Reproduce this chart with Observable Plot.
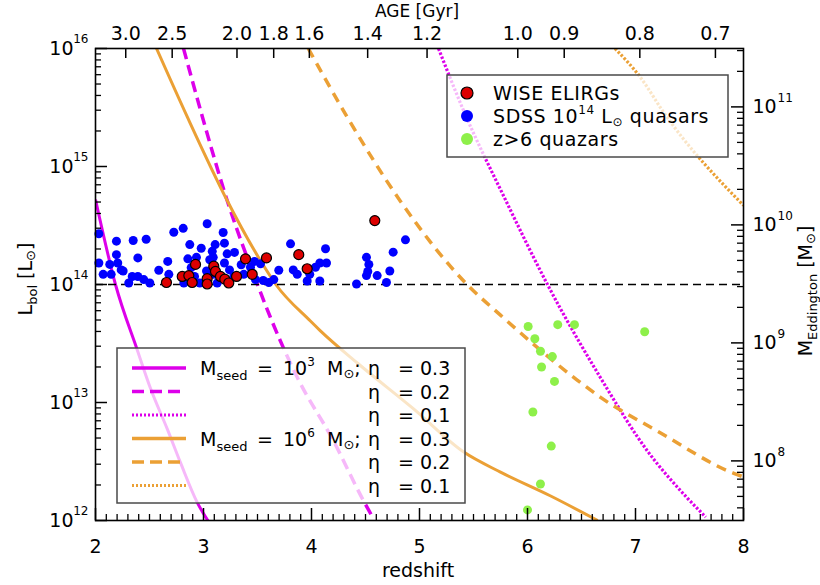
<!DOCTYPE html>
<html><head><meta charset="utf-8">
<script src="https://cdn.jsdelivr.net/npm/d3@7"></script>
<script src="https://cdn.jsdelivr.net/npm/@observablehq/plot@0.6"></script>
<style>body{margin:0;background:#fff} svg{display:block}</style>
</head><body><div id="chart"></div>
<script>
// ---------- data ----------
const redZ = [2.657,2.803,2.864,2.895,2.926,3.034,3.034,3.095,3.111,3.157,3.197,3.234,3.306,3.389,3.451,3.583,3.882,3.960,4.586];
const redL = [1.04e14,1.17e14,1.19e14,1.04e14,1.48e14,1.12e14,1.01e14,1.43e14,1.29e14,1.17e14,1.11e14,1.03e14,1.17e14,1.65e14,1.22e14,1.68e14,1.79e14,1.36e14,3.48e14];

const blueZ = [2.031,2.031,2.071,2.132,2.145,2.194,2.194,2.206,2.238,2.256,2.308,2.340,2.349,2.392,2.392,2.447,2.469,2.503,2.586,2.669,
  2.679,2.725,2.812,2.818,2.855,2.873,2.886,2.917,2.935,2.966,2.979,3.034,3.028,3.058,3.081,3.090,3.108,3.127,3.182,3.194,
  3.194,3.219,3.241,3.287,3.281,3.349,3.373,3.435,3.472,3.481,3.528,3.553,3.605,3.651,3.697,3.806,3.831,3.868,3.960,3.984,
  4.037,4.077,4.077,4.130,4.139,4.417,4.509,4.531,4.509,4.608,4.694,4.725,4.756,4.870,4.521,3.090];
const blueL = [2.69e14,1.52e14,1.22e14,1.48e14,1.22e14,2.33e14,1.79e14,1.52e14,1.33e14,1.30e14,1.03e14,1.17e14,2.36e14,1.68e14,1.17e14,1.10e14,2.42e14,1.03e14,1.32e14,1.57e14,
  1.22e14,2.77e14,2.99e14,1.03e14,1.65e14,2.18e14,1.39e14,1.17e14,1.70e14,1.03e14,2.03e14,3.27e14,1.30e14,1.62e14,1.91e14,1.22e14,2.18e14,1.03e14,2.76e14,2.24e14,
  1.52e14,1.82e14,1.33e14,1.87e14,1.17e14,1.47e14,1.22e14,1.40e14,1.57e14,1.10e14,1.50e14,1.08e14,1.04e14,1.10e14,1.32e14,2.21e14,1.33e14,1.22e14,1.07e14,1.22e14,
  1.40e14,1.52e14,1.07e14,2.01e14,1.52e14,1.01e14,1.70e14,1.48e14,1.19e14,1.19e14,1.04e14,1.30e14,1.88e14,2.39e14,1.29e14,1.70e14];

const greenZ = [6.006,6.068,6.12,6.13,6.28,6.435,6.23,6.25,6.05,6.22,6.12,6.0,7.085];
const greenL = [4.41e13,3.47e13,2.72e13,2.0e13,4.57e13,4.57e13,2.45e13,1.51e13,8.3e12,4.27e12,2.04e12,1.23e12,3.98e13];

// growth tracks: seed mass 1e3 / 1e6 Msun, eta = 0.3 / 0.2 / 0.1
const s3e3Z = [2.0,2.185,2.389,2.509,2.667,2.787,2.944,3.046];
const s3e3L = [5.25e14,1e14,2.75e13,1.32e13,5.89e12,3.09e12,1.41e12,9.8e11];
const s3e2Z = [2.815,2.99,3.22,3.5,3.62,3.87,4.2,4.48,4.57];
const s3e2L = [1e16,2.63e15,5.13e14,1e14,5.25e13,1.62e13,4.79e12,1.48e12,1.05e12];
const s3e1Z = [5.176,5.41,5.8,6.185,6.676,7.11,7.48,7.65];
const s3e1L = [1e16,2.95e15,5.13e14,1e14,1.62e13,3.89e12,1.55e12,1.07e12];
const s6e3Z = [2.565,2.85,3.22,3.53,3.67,3.99,4.08,4.43,4.94,5.41,5.75,6.21,6.65];
const s6e3L = [1e16,2.63e15,5.13e14,1.58e14,1e14,4.9e13,4.07e13,2.14e13,8.91e12,3.8e12,2.57e12,1.62e12,1e12];
const s6e2Z = [3.97,4.33,4.82,5.44,5.75,6.46,6.68,7.2,7.91,8.0];
const s6e2L = [1e16,2.63e15,5.13e14,1e14,5.5e13,1.55e13,1.1e13,5.75e12,2.51e12,2.34e12];
const s6e1Z = [6.81,7.05,7.26,8.0];
const s6e1L = [1e16,5.62e15,2.88e15,4.68e14];

// axes
const ageZ = [2.28,2.71,3.31,3.65,3.98,4.52,5.07,5.91,6.34,7.04,7.74];
const ageLabels = ["3.0","2.5","2.0","1.8","1.6","1.4","1.2","1.0","0.9","0.8","0.7"];
const zTicks = [2,3,4,5,6,7,8];
const lTicks = [1e12,1e13,1e14,1e15,1e16];
const lExp = ["12","13","14","15","16"];
const mTicks = [1e8,1e9,1e10,1e11];
const mExp = ["8","9","10","11"];
const eddRatio = 3.2e4;   // L_Edd / M  (Lsun / Msun)

// ---------- derived tables ----------
const pts = (zs, ls) => zs.map((z, i) => ({z, L: ls[i]}));
const MAG = "#dd00ea", ORA = "#eba035";
const DOT = "2.5,1.8";
const tracks = [
  {d: pts(s3e3Z, s3e3L), c: MAG, w: 3,   dash: null},
  {d: pts(s3e2Z, s3e2L), c: MAG, w: 3.5, dash: "11,6"},
  {d: pts(s3e1Z, s3e1L), c: MAG, w: 3.2, dash: DOT},
  {d: pts(s6e3Z, s6e3L), c: ORA, w: 3,   dash: null},
  {d: pts(s6e2Z, s6e2L), c: ORA, w: 3.5, dash: "10,7"},
  {d: pts(s6e1Z, s6e1L), c: ORA, w: 3.2, dash: DOT}
];
const lMinor = [];
for (let e = 12; e < 16; e++) for (let k = 2; k <= 9; k++) lMinor.push(k * 10 ** e);
const mMinorL = [];
for (let e = 7; e <= 11; e++) for (let k = 2; k <= 9; k++) {
  const L = k * 10 ** e * eddRatio; if (L > 1e12 && L < 1e16) mMinorL.push(L);
}
const mTicksL = mTicks.map(m => m * eddRatio);
const zMinor = [];
for (let i = 20; i <= 80; i++) if (i % 10) zMinor.push(i / 10);

const W = 820, H = 585, mL = 95, mR = 77, mT = 48, mB = 65;
const FW = W - mL - mR, FH = H - mT - mB;
const FS = 19;

const marks = [];
tracks.forEach(t => marks.push(Plot.line(t.d, {x: "z", y: "L", stroke: t.c, strokeWidth: t.w,
  strokeDasharray: t.dash || undefined, strokeLinecap: "butt", curve: "monotone-x", clip: true})));
marks.push(
  Plot.ruleY([1e14], {stroke: "black", strokeWidth: 1.5, strokeDasharray: "8,5"}),
  Plot.dot(pts(blueZ, blueL), {x: "z", y: "L", r: 4.5, fill: "#0000ff", stroke: "none"}),
  Plot.dot(pts(redZ, redL), {x: "z", y: "L", r: 5, fill: "#dd0000", stroke: "black", strokeWidth: 1.2}),
  Plot.dot(pts(greenZ, greenL), {x: "z", y: "L", r: 4.5, fill: "#8ef04a", stroke: "none"}),
  Plot.frame({stroke: "black", strokeWidth: 1.6}),
  // inward ticks
  Plot.tickY(lTicks, {y: d => d, insetRight: FW - 12, stroke: "black", strokeWidth: 1.5}),
  Plot.tickY(lMinor, {y: d => d, insetRight: FW - 6, stroke: "black", strokeWidth: 1.3}),
  Plot.tickY(mTicksL, {y: d => d, insetLeft: FW - 12, stroke: "black", strokeWidth: 1.5}),
  Plot.tickY(mMinorL, {y: d => d, insetLeft: FW - 6, stroke: "black", strokeWidth: 1.3}),
  Plot.tickX(zTicks, {x: d => d, insetTop: FH - 12, stroke: "black", strokeWidth: 1.5}),
  Plot.tickX(zMinor, {x: d => d, insetTop: FH - 6, stroke: "black", strokeWidth: 1.3}),
  Plot.tickX(ageZ, {x: d => d, insetBottom: FH - 10, stroke: "black", strokeWidth: 1.5}),
  // tick labels
  Plot.text(zTicks, {x: d => d, text: d => String(d), frameAnchor: "bottom", dy: 26, fontSize: FS, lineAnchor: "middle", fill: "black"}),
  Plot.text(ageZ, {x: d => d, text: (d, i) => ageLabels[i], frameAnchor: "top", dy: -15, fontSize: FS, lineAnchor: "middle", fill: "black"}),
  Plot.text(lTicks, {y: d => d, text: () => "10", frameAnchor: "left", dx: -22, textAnchor: "end", fontSize: FS, lineAnchor: "middle", fill: "black"}),
  Plot.text(lTicks, {y: d => d, text: (d, i) => lExp[i], frameAnchor: "left", dx: -7, dy: -9, textAnchor: "end", fontSize: 12, lineAnchor: "middle", fill: "black"}),
  Plot.text(mTicksL, {y: d => d, text: () => "10", frameAnchor: "right", dx: 9, textAnchor: "start", fontSize: FS, lineAnchor: "middle", fill: "black"}),
  Plot.text(mTicksL, {y: d => d, text: (d, i) => mExp[i], frameAnchor: "right", dx: 34, dy: -9, textAnchor: "start", fontSize: 12, lineAnchor: "middle", fill: "black"})
);

const plot = Plot.plot({
  width: W, height: H, marginLeft: mL, marginRight: mR, marginTop: mT, marginBottom: mB,
  x: {domain: [2, 8], axis: null},
  y: {type: "log", domain: [1e12, 1e16], axis: null},
  style: {fontFamily: "DejaVu Sans, sans-serif", fontSize: "19px", background: "white", color: "black"},
  marks
});
document.getElementById("chart").appendChild(plot);

// ---------- titles & legends ----------
const svg = d3.select(plot);
const g = svg.append("g").attr("font-family", "DejaVu Sans, sans-serif").attr("fill", "black")
  .attr("text-anchor", "start");

function rich(parent, x, y, parts, attrs = {}) {
  const t = parent.append("text").attr("x", x).attr("y", y).attr("text-anchor", "start");
  Object.entries(attrs).forEach(([k, v]) => t.attr(k, v));
  parts.forEach(p => t.append("tspan").attr("font-size", p[1]).attr("dy", p[2] || 0).text(p[0]));
  return t;
}
// axis titles
rich(g, 418, 577, [["redshift", FS]], {"text-anchor": "middle"});
rich(g, 417, 17, [["AGE [Gyr]", 17]], {"text-anchor": "middle"});
rich(g, 0, 0, [["L", FS], ["bol", 13, 5], [" [L", FS, -5], ["\u2299", 13, 3], ["]", FS, -3]],
  {"text-anchor": "middle", transform: "translate(32,279) rotate(-90)"});
rich(g, 0, 0, [["M", FS], ["Eddington", 13, 5], [" [M", FS, -5], ["\u2299", 13, 3], ["]", FS, -3]],
  {"text-anchor": "middle", transform: "translate(812,291) rotate(-90)"});

// legend 1 (top right)
g.append("rect").attr("x", 447).attr("y", 75).attr("width", 281).attr("height", 82)
  .attr("fill", "white").attr("fill-opacity", 0.72).attr("stroke", "#4a4a4a").attr("stroke-width", 1.5);
const l1 = [["#dd0000", "black"], ["#0000ff", "none"], ["#8ef04a", "none"]];
[93, 116, 139].forEach((y, i) => g.append("circle").attr("cx", 467).attr("cy", y).attr("r", 6)
  .attr("fill", l1[i][0]).attr("stroke", l1[i][1]).attr("stroke-width", 1.2));
rich(g, 493, 100, [["WISE ELIRGs", FS]], {"letter-spacing": "0.6px"});
rich(g, 493, 123, [["SDSS 10", FS], ["14", 12, -9], [" L", FS, 9], ["\u2299", 12, 3], [" quasars", FS, -3]], {"letter-spacing": "0.6px"});
rich(g, 493, 146, [["z>6 quazars", FS]], {"letter-spacing": "0.6px"});

// legend 2 (bottom left)
g.append("rect").attr("x", 117).attr("y", 348).attr("width", 348).attr("height", 155)
  .attr("fill", "white").attr("fill-opacity", 0.72).attr("stroke", "#4a4a4a").attr("stroke-width", 1.5);
const rows = [368, 391.5, 415, 438.5, 462, 485.5];
const etas = ["0.3", "0.2", "0.1", "0.3", "0.2", "0.1"];
const legDash = [null, "12,6", "2,2", null, "12,6", "2,2"];
rows.forEach((y, i) => {
  const t = tracks[i];
  const ln = g.append("line").attr("x1", 132).attr("x2", 186).attr("y1", y).attr("y2", y)
    .attr("stroke", t.c).attr("stroke-width", t.dash === DOT ? 3 : 3.5);
  if (legDash[i]) ln.attr("stroke-dasharray", legDash[i]);
  const b = y + 7;
  rich(g, 368, b, [["\u03b7", FS]]);
  rich(g, 398, b, [["=", FS]]);
  rich(g, 420, b, [[etas[i], FS]]);
  if (i === 0 || i === 3) {
    rich(g, 200, b, [["M", FS], ["seed", 13, 5]]);
    rich(g, 257, b, [["=", FS]]);
    rich(g, 283, b, [["10", FS], [i === 0 ? "3" : "6", 12, -9]]);
    rich(g, 327, b, [["M", FS], ["\u2299", 13, 3], [";", FS, -3]]);
  }
});
</script></body></html>
